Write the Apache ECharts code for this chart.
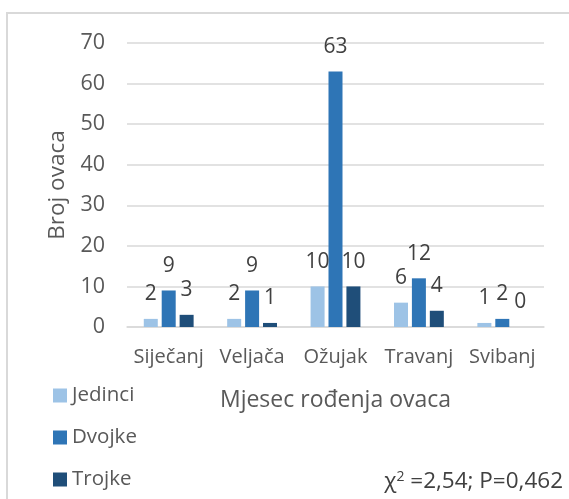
<!DOCTYPE html>
<html>
<head>
<meta charset="utf-8">
<script src="https://cdn.jsdelivr.net/npm/echarts@6/dist/echarts.min.js"></script>
<style>
html,body{margin:0;padding:0;background:#fff;}
#c{width:569px;height:499px;}
</style>
</head>
<body>
<div id="c"></div>
<script>
const categories = ['Siječanj', 'Veljača', 'Ožujak', 'Travanj', 'Svibanj'];
const seriesNames = ['Jedinci', 'Dvojke', 'Trojke'];
const jedinci = [2, 2, 10, 6, 1];
const dvojke = [9, 9, 63, 12, 2];
const trojke = [3, 1, 10, 4, 0];
const yTicks = { min: 0, max: 70, interval: 10 };
const colors = ['#9DC3E6', '#2E75B6', '#1F4E79'];
const FONT = 'Open Sans';
const TXT = '#595959';

const chart = echarts.init(document.getElementById('c'), null, { renderer: 'canvas' });
const values = [jedinci, dvojke, trojke];
chart.setOption({
  animation: false,
  textStyle: { fontFamily: FONT },
  color: colors,
  grid: { left: 127, right: 25, top: 43, bottom: 172, containLabel: false },
  legend: {
    orient: 'vertical',
    left: 53,
    top: 385,
    padding: 0,
    itemWidth: 14,
    itemHeight: 14,
    itemGap: 21,
    icon: 'rect',
    textStyle: { fontFamily: FONT, fontSize: 20.5, color: TXT },
    data: seriesNames
  },
  xAxis: {
    type: 'category',
    data: categories,
    name: 'Mjesec rođenja ovaca',
    nameLocation: 'middle',
    nameGap: 62,
    nameTextStyle: { fontFamily: FONT, fontSize: 23, color: TXT },
    axisLine: { lineStyle: { color: '#D9D9D9', width: 1.5 } },
    axisTick: { show: false },
    axisLabel: { fontFamily: FONT, fontSize: 20, color: TXT, margin: 20, interval: 0, hideOverlap: false }
  },
  yAxis: {
    type: 'value',
    min: yTicks.min,
    max: yTicks.max,
    interval: yTicks.interval,
    name: 'Broj ovaca',
    nameLocation: 'middle',
    nameGap: 57,
    nameTextStyle: { fontFamily: FONT, fontSize: 22.5, color: TXT },
    axisLine: { show: false },
    axisTick: { show: false },
    splitLine: { lineStyle: { color: '#D9D9D9', width: 1.5 } },
    axisLabel: { fontFamily: FONT, fontSize: 21.5, color: TXT, margin: 22 }
  },
  series: seriesNames.map((n, i) => ({
    name: n,
    type: 'bar',
    data: values[i],
    barWidth: 14,
    barGap: '28%',
    label: {
      show: true,
      position: 'top',
      distance: 14,
      fontFamily: FONT,
      fontSize: 21,
      color: '#404040'
    }
  })),
  graphic: [
    {
      type: 'rect',
      shape: { x: 7, y: 13, width: 600, height: 560 },
      style: { fill: 'none', stroke: '#D9D9D9', lineWidth: 2 },
      silent: true
    },
    {
      type: 'text',
      right: 6,
      top: 470,
      style: {
        text: '{a|χ}{s|2}{a| =2,54; P=0,462}',
        rich: {
          a: { fontFamily: FONT, fontSize: 22.5, fill: '#404040' },
          s: { fontFamily: FONT, fontSize: 14, fill: '#404040', verticalAlign: 'top', padding: [0, 0, 10, 0] }
        }
      }
    }
  ]
});
</script>
</body>
</html>
